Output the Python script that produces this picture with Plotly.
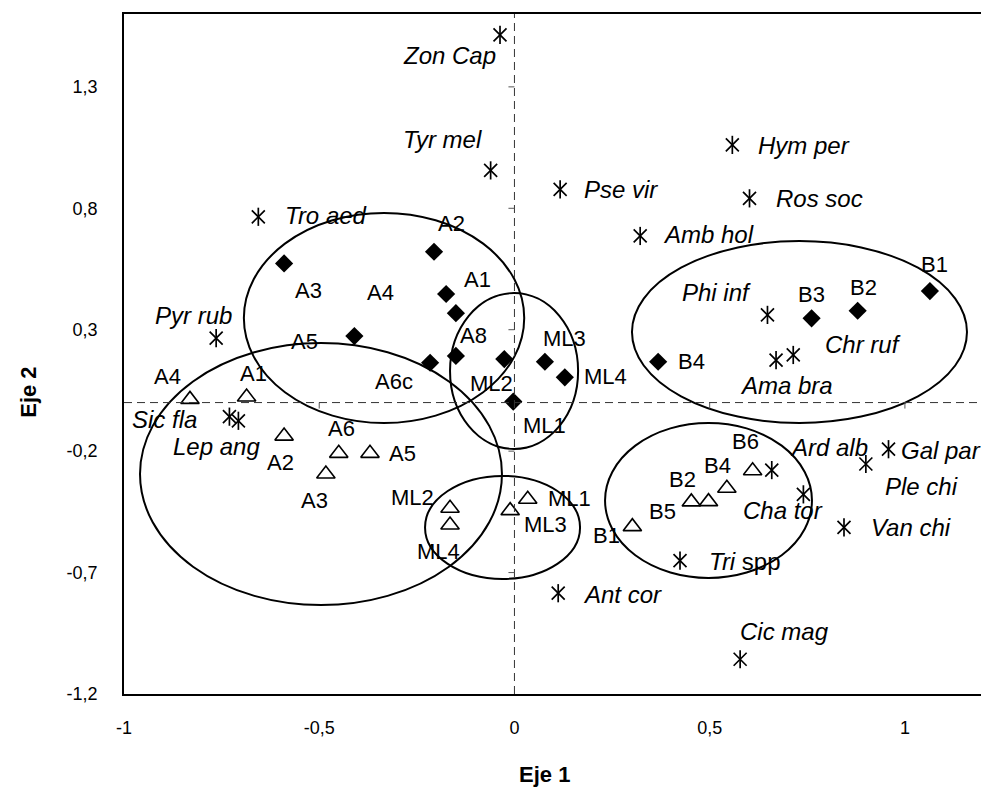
import plotly.graph_objects as go

# ---------------- data ----------------
x_tickvals = [-1, -0.5, 0, 0.5, 1]
x_ticktext = ["-1", "-0,5", "0", "0,5", "1"]
y_tickvals = [-1.2, -0.7, -0.2, 0.3, 0.8, 1.3]
y_ticktext = ["-1,2", "-0,7", "-0,2", "0,3", "0,8", "1,3"]

# filled diamonds
diamond_labels = ["A1", "A2", "A3", "A4", "A5", "A6c", "A8",
                  "ML1", "ML2", "ML3", "ML4", "B1", "B2", "B3", "B4"]
diamond_x = [-0.175, -0.206, -0.590, -0.150, -0.410, -0.216, -0.150,
             -0.003, -0.026, 0.078, 0.129, 1.064, 0.879, 0.761, 0.368]
diamond_y = [0.447, 0.621, 0.573, 0.368, 0.274, 0.164, 0.192,
             0.004, 0.179, 0.168, 0.104, 0.459, 0.378, 0.347, 0.168]

# open triangles
triangle_labels = ["A1", "A2", "A3", "A4", "A5", "A6",
                   "ML1", "ML2", "ML3", "ML4", "B1", "B2", "B4", "B5", "B6"]
triangle_x = [-0.686, -0.590, -0.483, -0.831, -0.370, -0.450,
              0.034, -0.165, -0.011, -0.165, 0.302, 0.497, 0.544, 0.453, 0.610]
triangle_y = [0.023, -0.138, -0.294, 0.013, -0.209, -0.209,
              -0.398, -0.435, -0.445, -0.504, -0.511, -0.408, -0.353, -0.409, -0.281]

# species (asterisks)
species_labels = ["Zon Cap", "Tyr mel", "Tro aed", "Pse vir", "Hym per", "Ros soc",
                  "Amb hol", "Pyr rub", "Phi inf", "Ama bra", "Chr ruf", "Sic fla",
                  "Lep ang", "Ard alb", "Gal par", "Ple chi", "Cha tor", "Van chi",
                  "Tri spp", "Ant cor", "Cic mag"]
species_x = [-0.037, -0.061, -0.656, 0.117, 0.558, 0.602,
             0.322, -0.764, 0.648, 0.670, 0.714, -0.730,
             -0.707, 0.659, 0.958, 0.900, 0.740, 0.844,
             0.424, 0.112, 0.578]
species_y = [1.514, 0.956, 0.765, 0.878, 1.061, 0.841,
             0.686, 0.265, 0.361, 0.175, 0.196, -0.058,
             -0.075, -0.278, -0.192, -0.253, -0.378, -0.514,
             -0.651, -0.785, -1.057]

# group ellipses (x0, x1, y0, y1) in axis units
ellipses = [
    (-0.693, 0.025, -0.084, 0.781),
    (-0.959, -0.032, -0.834, 0.245),
    (-0.165, 0.163, -0.191, 0.451),
    (-0.229, 0.168, -0.726, -0.302),
    (0.301, 1.159, -0.084, 0.665),
    (0.232, 0.762, -0.722, -0.084),
]

# ---------------- label placement (pixel offsets: right, down) ----------------
diamond_off = [(31, -15), (17, -28), (24, 27), (-75, -21), (-50, 5), (-36, 19), (18, -20),
               (31, 24), (-13, 24), (20, -23), (41, -1), (5, -27), (6, -23), (0, -24), (33, 0)]
triangle_off = [(7, -23), (-4, 26), (-11, 27), (-22, -23), (33, 0), (3, -25),
                (42, -1), (-38, -11), (35, 14), (-12, 27), (-26, 9), (-26, -22), (-9, -23),
                (-29, 10), (-7, -29)]
species_off = [(-51, 21), (-48, -31), (68, -1), (61, 0), (72, 1), (70, 0),
               (68, -1), (-23, -23), (-51, -22), (10, 25), (70, -10), (-65, 3),
               (-22, 26), (57, -23), (52, 1), (56, 22), (-20, 16), (67, 0),
               (65, 1), (64, 1), (44, -28)]

FONT = "Arial, Liberation Sans, sans-serif"


def species_text(name):
    # genus abbreviation in italics, "spp" upright
    parts = name.split(" ")
    if parts[-1] == "spp":
        return "<i>" + " ".join(parts[:-1]) + "</i> spp"
    return "<i>" + name + "</i>"


fig = go.Figure()
fig.add_trace(go.Scatter(
    x=diamond_x, y=diamond_y, mode="markers", text=diamond_labels, hoverinfo="text",
    marker=dict(symbol="diamond", size=14, color="black", line=dict(width=0)),
    cliponaxis=False))
fig.add_trace(go.Scatter(
    x=triangle_x, y=triangle_y, mode="markers", text=triangle_labels, hoverinfo="text",
    marker=dict(symbol="triangle-up-open", size=16, color="black",
                line=dict(width=1.6, color="black")),
    cliponaxis=False))
for sym in ["x-thin-open", "line-ns-open"]:
    fig.add_trace(go.Scatter(
        x=species_x, y=species_y, mode="markers", text=species_labels, hoverinfo="text",
        marker=dict(symbol=sym, size=13, color="black",
                    line=dict(width=1.7, color="black")),
        cliponaxis=False))

annotations = []
for labels, xs, ys, offs, is_species in [
        (diamond_labels, diamond_x, diamond_y, diamond_off, False),
        (triangle_labels, triangle_x, triangle_y, triangle_off, False),
        (species_labels, species_x, species_y, species_off, True)]:
    for lab, xv, yv, (dx, dy) in zip(labels, xs, ys, offs):
        annotations.append(dict(
            x=xv, y=yv, xref="x", yref="y",
            text=species_text(lab) if is_species else lab, showarrow=False,
            xshift=dx, yshift=-dy, xanchor="center", yanchor="middle",
            font=dict(family=FONT, size=24 if is_species else 22, color="black")))

annotations.append(dict(x=0.49, y=-0.139, xref="paper", yref="paper", text="<b>Eje 1</b>",
                        showarrow=False, font=dict(family=FONT, size=22, color="black")))
annotations.append(dict(x=-0.129, y=0.444, xref="paper", yref="paper", text="<b>Eje 2</b>",
                        showarrow=False, textangle=-90,
                        font=dict(family=FONT, size=22, color="black")))

shapes = []
for (x0, x1, y0, y1) in ellipses:
    shapes.append(dict(type="circle", xref="x", yref="y", x0=x0, x1=x1, y0=y0, y1=y1,
                       line=dict(color="black", width=2)))
# dashed axes through the origin
shapes.append(dict(type="line", xref="x", yref="y", x0=0, x1=0, y0=-1.2, y1=1.6,
                   line=dict(color="#333333", width=1, dash="8px,5px")))
shapes.append(dict(type="line", xref="x", yref="y", x0=-1, x1=1.2, y0=0, y1=0,
                   line=dict(color="#333333", width=1, dash="8px,5px")))
# small tick marks on the dashed axes
for yv in y_tickvals[1:]:
    shapes.append(dict(type="line", xref="x", yref="y", xsizemode="pixel", xanchor=0,
                       x0=-6, x1=0, y0=yv, y1=yv, line=dict(color="#555555", width=1)))
for xv in x_tickvals[1:]:
    if xv == 0:
        continue
    shapes.append(dict(type="line", xref="x", yref="y", ysizemode="pixel", yanchor=0,
                       y0=-6, y1=0, x0=xv, x1=xv, line=dict(color="#555555", width=1)))

# the page body adds an 8px margin; margins compensate so the frame sits where it should
fig.update_layout(
    width=989, height=794,
    margin=dict(l=116, r=14, t=6, b=108),
    paper_bgcolor="white", plot_bgcolor="white",
    showlegend=False,
    annotations=annotations, shapes=shapes,
    font=dict(family=FONT, size=18, color="black"),
)
fig.update_xaxes(range=[-1, 1.2], tickvals=x_tickvals, ticktext=x_ticktext,
                 showgrid=False, zeroline=False, showline=True, mirror=True,
                 linecolor="black", linewidth=1.5, ticks="", ticklabelstandoff=17,
                 automargin=False,
                 tickfont=dict(family=FONT, size=18, color="black"))
fig.update_yaxes(range=[-1.2, 1.6], tickvals=y_tickvals, ticktext=y_ticktext,
                 showgrid=False, zeroline=False, showline=True, mirror=True,
                 linecolor="black", linewidth=1.5, ticks="", ticklabelstandoff=21,
                 automargin=False,
                 tickfont=dict(family=FONT, size=18, color="black"))

fig.write_html("out.html")
